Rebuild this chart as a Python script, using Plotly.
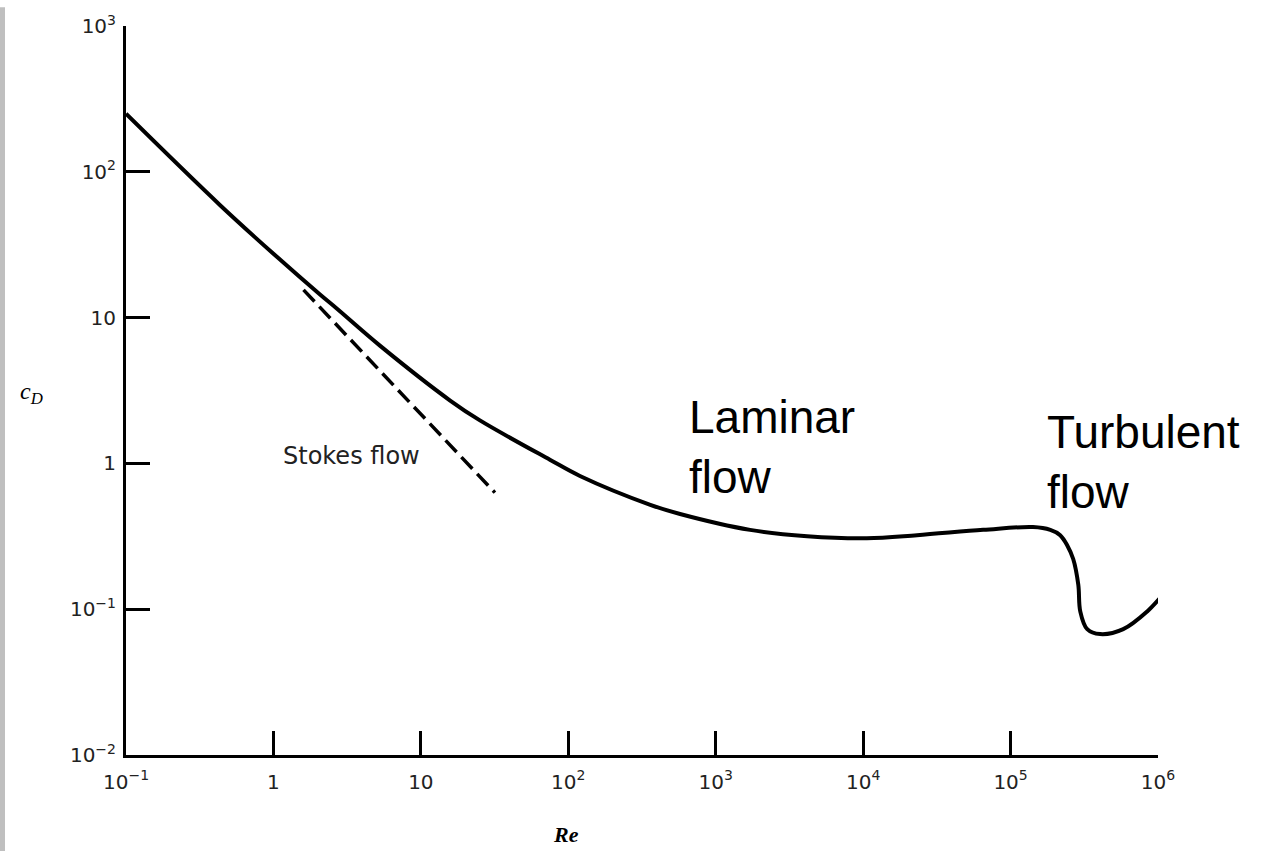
import math
import plotly.graph_objects as go

# Drag coefficient curve
re_curve = [0.1, 0.435, 1.06, 2.07, 2.7, 5.3, 15.8, 25, 75, 120, 360, 573, 1710, 4170,
            10600, 23200, 65200, 142000, 186000, 217000, 242000, 266000, 288000, 297000,
            331000, 405000, 581000, 845000, 1080000]
cd_curve = [250, 59, 26, 14.4, 11.5, 6.4, 2.7, 1.98, 1.06, 0.82, 0.52, 0.45, 0.35, 0.317,
            0.307, 0.322, 0.35, 0.366, 0.35, 0.322, 0.275, 0.221, 0.147, 0.0966,
            0.073, 0.0675, 0.073, 0.0966, 0.126]

# Stokes flow asymptote (dashed)
re_stokes = [1.6, 10.4, 31.8]
cd_stokes = [15.5, 2.1, 0.63]

x_tickvals = [0.1, 1, 10, 100, 1000, 10000, 100000, 1000000]
x_ticktext = ["10<sup>\u22121</sup>", "1", "10", "10<sup>2</sup>", "10<sup>3</sup>",
              "10<sup>4</sup>", "10<sup>5</sup>", "10<sup>6</sup>"]
y_tickvals = [0.01, 0.1, 1, 10, 100, 1000]
y_ticktext = ["10<sup>\u22122</sup>", "10<sup>\u22121</sup>", "1", "10", "10<sup>2</sup>",
              "10<sup>3</sup>"]

W, H = 1261, 852
ML, MR, MT, MB = 126, 103, 19, 97
PW, PH = W - ML - MR, H - MT - MB

fig = go.Figure()
fig.add_trace(go.Scatter(x=re_curve, y=cd_curve, mode="lines",
                         line=dict(color="black", width=4, shape="spline", smoothing=1.0),
                         showlegend=False, hoverinfo="skip"))
fig.add_trace(go.Scatter(x=re_stokes, y=cd_stokes, mode="lines",
                         line=dict(color="black", width=3.5, dash="16px,7px"),
                         showlegend=False, hoverinfo="skip"))

tickfont = dict(family="DejaVu Sans", size=20, color="#222")
fig.update_xaxes(type="log", range=[-1, 6], tickvals=x_tickvals, ticktext=x_ticktext,
                 ticks="inside", ticklen=24, tickwidth=2.5, tickcolor="black",
                 showline=True, linecolor="black", linewidth=2.5, showgrid=False,
                 zeroline=False, tickfont=tickfont, ticklabelstandoff=7)
fig.update_yaxes(type="log", range=[-2, 3], tickvals=y_tickvals, ticktext=y_ticktext,
                 ticks="inside", ticklen=24, tickwidth=2.5, tickcolor="black",
                 showline=True, linecolor="black", linewidth=3, showgrid=False,
                 zeroline=False, tickfont=tickfont, ticklabelstandoff=3)

def px_to_paper_x(px):
    return (px - ML) / PW

def px_to_paper_y(py):
    return (H - MB - py) / PH

ann = []
ann.append(dict(x=math.log10(3.41), y=math.log10(1.126), xref="x", yref="y",
                text="Stokes flow", showarrow=False, xanchor="center", yanchor="middle",
                font=dict(family="DejaVu Sans", size=24, color="#222")))
ann.append(dict(x=math.log10(640), y=math.log10(1.30), xref="x", yref="y",
                text="Laminar<br>flow", showarrow=False, xanchor="left", yanchor="middle",
                align="left", font=dict(family="Liberation Sans", size=46, color="black")))
ann.append(dict(x=math.log10(170000), y=math.log10(1.03), xref="x", yref="y",
                text="Turbulent<br>flow", showarrow=False, xanchor="left", yanchor="middle",
                align="left", font=dict(family="Liberation Sans", size=46, color="black")))
ann.append(dict(x=px_to_paper_x(566), y=px_to_paper_y(835), xref="paper", yref="paper",
                text="<i><b>Re</b></i>", showarrow=False, xanchor="center", yanchor="middle",
                font=dict(family="Liberation Serif", size=22, color="black")))
ann.append(dict(x=px_to_paper_x(31), y=px_to_paper_y(390), xref="paper", yref="paper",
                text="<i>c<sub>D</sub></i>", showarrow=False, xanchor="center", yanchor="middle",
                font=dict(family="Liberation Serif", size=24, color="black")))

shapes = [dict(type="rect", xref="paper", yref="paper",
               x0=px_to_paper_x(0), x1=px_to_paper_x(5),
               y0=px_to_paper_y(H), y1=px_to_paper_y(0),
               fillcolor="#bfbfbf", line=dict(width=0), layer="below")]

fig.update_layout(width=W, height=H, margin=dict(l=ML, r=MR, t=MT, b=MB),
                  plot_bgcolor="white", paper_bgcolor="white",
                  annotations=ann, shapes=shapes, showlegend=False)

fig.write_html("out.html", config={"displayModeBar": False},
               post_script="document.body.style.margin='0';")
